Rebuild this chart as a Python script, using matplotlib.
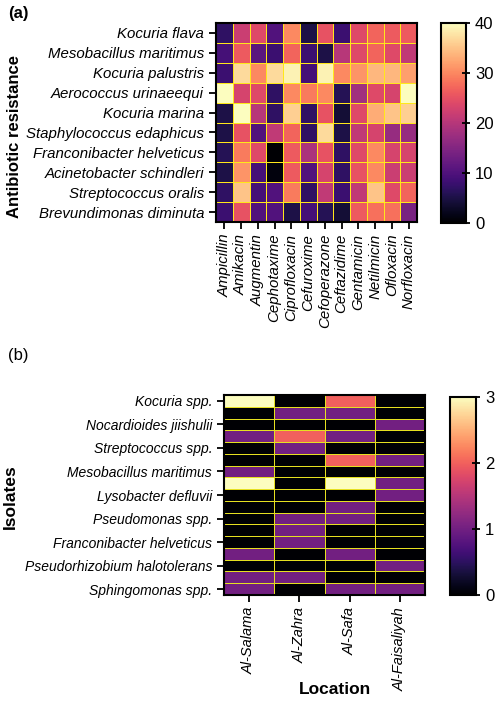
import matplotlib.pyplot as plt
import numpy as np

plt.rcParams['font.family'] = ['Liberation Sans', 'DejaVu Sans']

# panel (a): antibiotic resistance
bacteria_a = ["Kocuria flava", "Mesobacillus maritimus", "Kocuria palustris",
              "Aerococcus urinaeequi", "Kocuria marina", "Staphylococcus edaphicus",
              "Franconibacter helveticus", "Acinetobacter schindleri",
              "Streptococcus oralis", "Brevundimonas diminuta"]
antibiotics = ["Ampicillin", "Amikacin", "Augmentin", "Cephotaxime", "Ciprofloxacin",
               "Cefuroxime", "Cefoperazone", "Ceftazidime", "Gentamicin",
               "Netilmicin", "Ofloxacin", "Norfloxacin"]
resist = [
    [7, 22, 24, 10, 30, 5, 25, 8, 24, 27, 26, 26],
    [9, 26, 11, 8, 27, 8, 5, 20, 24, 27, 24, 21],
    [8, 37, 30, 37, 39, 9, 39, 30, 31, 34, 34, 32],
    [40, 23, 24, 7, 30, 29, 30, 6, 18, 24, 23, 40],
    [5, 40, 20, 7, 36, 7, 25, 4, 24, 33, 35, 36],
    [5, 25, 10, 21, 27, 7, 37, 5, 21, 23, 17, 17],
    [6, 29, 24, 0, 26, 19, 25, 7, 24, 30, 23, 23],
    [5, 31, 9, 1, 26, 10, 23, 7, 25, 30, 22, 22],
    [7, 35, 9, 10, 29, 7, 21, 8, 21, 35, 24, 27],
    [8, 25, 10, 10, 5, 9, 6, 4, 26, 28, 28, 14],
]

# panel (b): isolates per location (17 rows, every other one labelled)
isolate_labels = ["Kocuria spp.", "Nocardioides jiishulii", "Streptococcus spp.",
                  "Mesobacillus maritimus", "Lysobacter defluvii", "Pseudomonas spp.",
                  "Franconibacter helveticus", "Pseudorhizobium halotolerans",
                  "Sphingomonas spp."]
locations = ["Al-Salama", "Al-Zahra", "Al-Safa", "Al-Faisaliyah"]
counts = [
    [3, 0, 2, 0],
    [0, 1, 1, 0],
    [0, 0, 0, 1],
    [1, 2, 1, 0],
    [0, 1, 0, 0],
    [0, 0, 2, 1],
    [1, 0, 0, 0],
    [3, 0, 3, 1],
    [0, 0, 0, 1],
    [0, 0, 1, 0],
    [0, 1, 1, 0],
    [0, 1, 0, 0],
    [0, 1, 0, 0],
    [1, 0, 1, 0],
    [0, 0, 0, 1],
    [1, 1, 0, 0],
    [1, 0, 1, 1],
]

W, H = 496, 703
fig = plt.figure(figsize=(W / 100, H / 100), dpi=100)


def ax_px(x0, y0, x1, y1):
    return fig.add_axes([x0 / W, 1 - y1 / H, (x1 - x0) / W, (y1 - y0) / H])


def style(ax):
    for s in ax.spines.values():
        s.set_linewidth(1.5)
    ax.tick_params(direction='out', length=5, width=1.3)


# ---- (a)
ax1 = ax_px(216, 23, 417, 222)
data_a = np.array(resist)
m1 = ax1.pcolormesh(data_a, cmap='magma', vmin=0, vmax=40,
                    edgecolors='#ffe81a', linewidth=0.6)
ax1.set_xlim(0, data_a.shape[1])
ax1.set_ylim(data_a.shape[0], 0)
ax1.set_xticks(np.arange(len(antibiotics)) + 0.5)
ax1.set_xticklabels(antibiotics, rotation=90, style='italic', fontsize=10.8)
ax1.set_yticks(np.arange(len(bacteria_a)) + 0.5)
ax1.set_yticklabels(bacteria_a, style='italic', fontsize=10.8)
ax1.set_ylabel("Antibiotic resistance", fontsize=12, fontweight='bold', va='center')
ax1.yaxis.set_label_coords(-1.0, 0.43)
style(ax1)

cax1 = ax_px(441, 23, 466, 223)
cb1 = fig.colorbar(m1, cax=cax1, ticks=[0, 10, 20, 30, 40])
cb1.outline.set_linewidth(1.5)
cb1.ax.tick_params(labelsize=12, direction='inout', length=6, width=1.3)

# ---- (b)
ax2 = ax_px(224, 395, 425, 595)
data_b = np.array(counts)
m2 = ax2.pcolormesh(data_b, cmap='magma', vmin=0, vmax=3,
                    edgecolors='#e6e020', linewidth=0.6)
ax2.set_xlim(0, data_b.shape[1])
ax2.set_ylim(data_b.shape[0], 0)
ax2.set_xticks(np.arange(len(locations)) + 0.5)
ax2.set_xticklabels(locations, rotation=90, style='italic', fontsize=10.5)
ax2.set_yticks(np.arange(0, data_b.shape[0], 2) + 0.5)
ax2.set_yticklabels(isolate_labels, style='italic', fontsize=10)
ax2.set_ylabel("Isolates", fontsize=12.5, fontweight='bold', va='center')
ax2.yaxis.set_label_coords(-1.065, 0.49)
ax2.set_xlabel("Location", fontsize=12.5, fontweight='bold', va='center')
ax2.xaxis.set_label_coords(0.55, -0.475)
style(ax2)

cax2 = ax_px(450, 397, 476, 595)
cb2 = fig.colorbar(m2, cax=cax2, ticks=[0, 1, 2, 3])
cb2.outline.set_linewidth(1.5)
cb2.ax.tick_params(labelsize=12, direction='inout', length=6, width=1.3)

fig.text(8 / W, 1 - 18 / H, "(a)", fontsize=12, fontweight='bold')
fig.text(8 / W, 1 - 360 / H, "(b)", fontsize=12)

fig.savefig("out.png", dpi=100)
